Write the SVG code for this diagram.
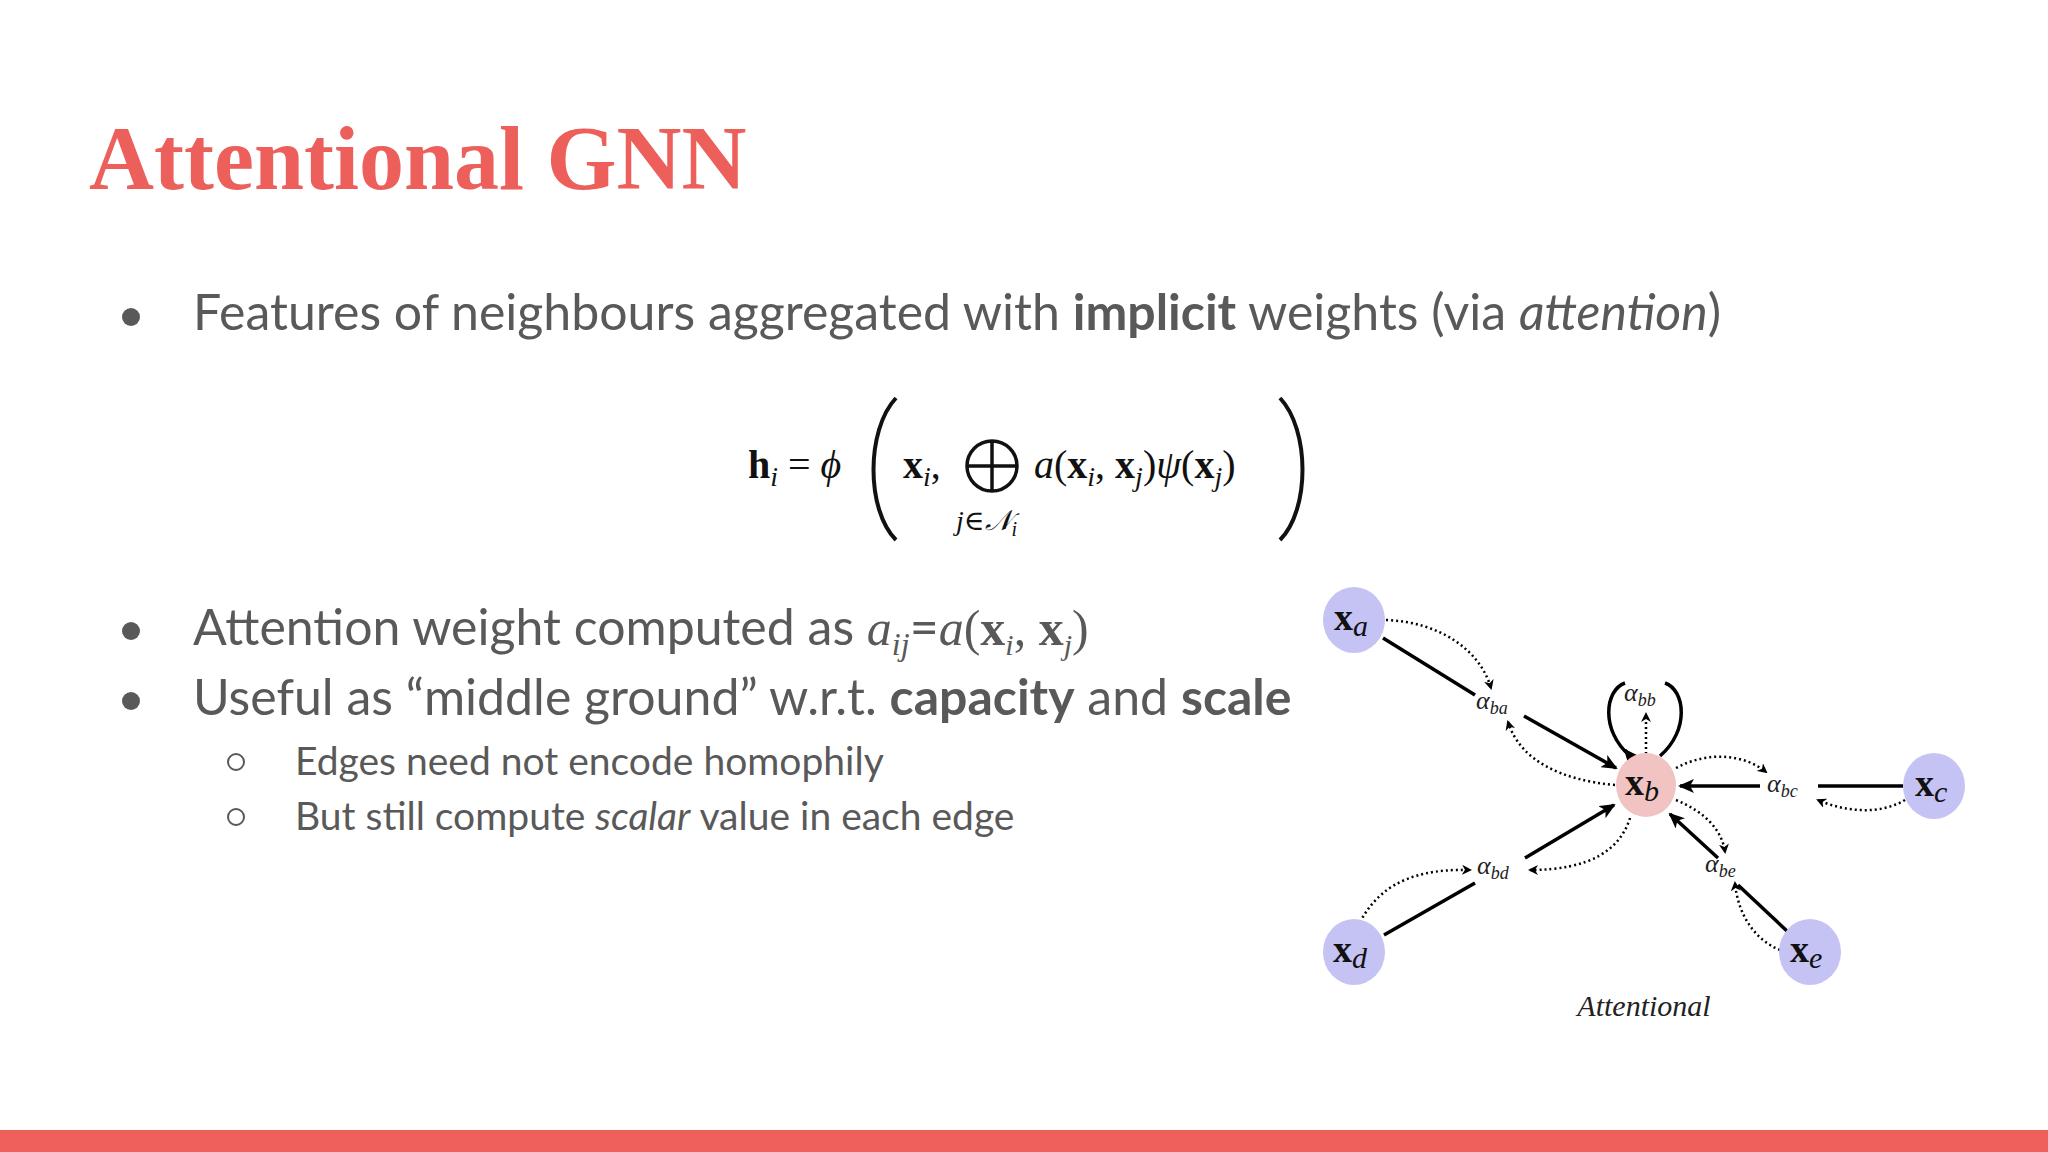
<svg xmlns="http://www.w3.org/2000/svg" width="2048" height="1152" viewBox="0 0 2048 1152">
<defs>
<style>
.b{font-family:Lato,"Open Sans",sans-serif;fill:#595959}
.m{font-family:"Liberation Serif","DejaVu Serif",serif;fill:#111}
.solid{stroke:#000;stroke-width:3.5;fill:none}
.dot{stroke:#000;stroke-width:2.5;fill:none;stroke-dasharray:2 3}
.node{fill:#c5c3f3}
.nl{font-family:"Liberation Serif",serif;font-size:38px;font-weight:bold;fill:#111}
.al{font-family:"Liberation Serif",serif;font-size:26px;font-style:italic;fill:#222}
</style>
<marker id="ah" markerWidth="10" markerHeight="10" refX="8" refY="5" orient="auto" markerUnits="userSpaceOnUse"><path d="M0,0 L10,5 L0,10 L3,5 z" fill="#000"/></marker>
<marker id="as" markerWidth="16" markerHeight="14" refX="14" refY="7" orient="auto" markerUnits="userSpaceOnUse"><path d="M0,0 L16,7 L0,14 L4,7 z" fill="#000"/></marker>
</defs>
<rect width="2048" height="1152" fill="#fff"/>
<text x="89" y="189" font-family="'Liberation Serif',serif" font-weight="bold" font-size="90" fill="#ec5f5b">Attentional GNN</text>
<g class="b" font-size="50">
<circle cx="131" cy="317" r="9" fill="#595959"/>
<text x="193" y="330">Features of neighbours aggregated with <tspan font-weight="bold">implicit</tspan> weights (via <tspan font-style="italic">attention</tspan>)</text>
<circle cx="131" cy="631" r="9" fill="#595959"/>
<text x="193" y="645">Attention weight computed as <tspan font-family="'Liberation Serif',serif" font-style="italic">a</tspan><tspan font-family="'Liberation Serif',serif" font-style="italic" font-size="32" dy="10">ij</tspan><tspan dy="-10">=</tspan><tspan font-family="'Liberation Serif',serif" font-style="italic">a</tspan><tspan font-family="'Liberation Serif',serif">(</tspan><tspan font-family="'Liberation Serif',serif" font-weight="bold">x</tspan><tspan font-family="'Liberation Serif',serif" font-style="italic" font-size="30" dy="10">i</tspan><tspan font-family="'Liberation Serif',serif" dy="-10">, </tspan><tspan font-family="'Liberation Serif',serif" font-weight="bold">x</tspan><tspan font-family="'Liberation Serif',serif" font-style="italic" font-size="30" dy="10">j</tspan><tspan font-family="'Liberation Serif',serif" dy="-10">)</tspan></text>
<circle cx="131" cy="701" r="9" fill="#595959"/>
<text x="193" y="715">Useful as “middle ground” w.r.t. <tspan font-weight="bold">capacity</tspan> and <tspan font-weight="bold">scale</tspan></text>
</g>
<g class="b" font-size="39">
<circle cx="236" cy="762" r="8" fill="none" stroke="#595959" stroke-width="2"/>
<text x="295" y="775">Edges need not encode homophily</text>
<circle cx="236" cy="817" r="8" fill="none" stroke="#595959" stroke-width="2"/>
<text x="295" y="830">But still compute <tspan font-style="italic">scalar</tspan> value in each edge</text>
</g>
<g id="formula">
<text class="m" x="748" y="478" font-size="40"><tspan font-weight="bold">h</tspan><tspan font-style="italic" font-size="28" dy="8">i</tspan><tspan dy="-8"> = </tspan><tspan font-style="italic">ϕ</tspan></text>
<path d="M896,398 C866,430 866,510 896,540" stroke="#111" stroke-width="4" fill="none"/>
<text class="m" x="903" y="478" font-size="40"><tspan font-weight="bold">x</tspan><tspan font-style="italic" font-size="28" dy="8">i</tspan><tspan dy="-8">,</tspan></text>
<circle cx="992" cy="466" r="25" stroke="#111" stroke-width="3.5" fill="none"/>
<path d="M967,466 H1017 M992,441 V491" stroke="#111" stroke-width="3.5"/>
<text class="m" x="956" y="530" font-size="28" font-style="italic">j∈𝒩<tspan font-size="20" dy="6">i</tspan></text>
<text class="m" x="1034" y="478" font-size="40"><tspan font-style="italic">a</tspan>(<tspan font-weight="bold">x</tspan><tspan font-style="italic" font-size="28" dy="8">i</tspan><tspan dy="-8">, </tspan><tspan font-weight="bold">x</tspan><tspan font-style="italic" font-size="28" dy="8">j</tspan><tspan dy="-8">)</tspan><tspan font-style="italic">ψ</tspan>(<tspan font-weight="bold">x</tspan><tspan font-style="italic" font-size="28" dy="8">j</tspan><tspan dy="-8">)</tspan></text>
<path d="M1280,398 C1310,430 1310,510 1280,540" stroke="#111" stroke-width="4" fill="none"/>
</g>
<g id="connectors">
<line class="solid" x1="1383" y1="638" x2="1475" y2="695"/>
<line class="solid" x1="1524" y1="716" x2="1616" y2="768" marker-end="url(#as)"/>
<line class="solid" x1="1903" y1="786" x2="1818" y2="786"/>
<line class="solid" x1="1760" y1="786" x2="1680" y2="786" marker-end="url(#as)"/>
<line class="solid" x1="1384" y1="935" x2="1475" y2="883"/>
<line class="solid" x1="1525" y1="858" x2="1614" y2="805" marker-end="url(#as)"/>
<line class="solid" x1="1787" y1="931" x2="1738" y2="885"/>
<line class="solid" x1="1718" y1="858" x2="1670" y2="814" marker-end="url(#as)"/>
<path class="solid" d="M1630,756 C1600,730 1605,690 1625,683"/>
<path class="solid" d="M1665,683 C1685,690 1690,730 1660,756"/>
<path class="solid" d="M1630,756 L1625,750" marker-end="url(#as)"/>
<path class="dot" d="M1386,620 C1440,622 1480,650 1491,688" marker-end="url(#ah)"/>
<path class="dot" d="M1615,785 C1560,780 1520,760 1508,722" marker-end="url(#ah)"/>
<path class="dot" d="M1646,754 V714" stroke-width="5" marker-end="url(#ah)"/>
<path class="dot" d="M1676,768 C1710,750 1745,755 1766,772" marker-end="url(#ah)"/>
<path class="dot" d="M1905,800 C1880,815 1845,812 1818,800" marker-end="url(#ah)"/>
<path class="dot" d="M1360,922 C1375,895 1400,868 1470,870" marker-end="url(#ah)"/>
<path class="dot" d="M1630,818 C1620,850 1590,870 1530,870" marker-end="url(#ah)"/>
<path class="dot" d="M1676,800 C1705,812 1722,830 1725,852" marker-end="url(#ah)"/>
<path class="dot" d="M1780,950 C1755,940 1738,915 1735,883" marker-end="url(#ah)"/>
</g>
<g id="node-a"><ellipse class="node" cx="1354" cy="620" rx="31" ry="33"/><text class="nl" x="1334" y="630">x<tspan font-weight="normal" font-style="italic" font-size="30" dy="6">a</tspan></text></g>
<g id="node-b"><ellipse cx="1646" cy="785" rx="30" ry="32" fill="#f2c3c3"/><text class="nl" x="1625" y="795">x<tspan font-weight="normal" font-style="italic" font-size="30" dy="6">b</tspan></text></g>
<g id="node-c"><ellipse class="node" cx="1934" cy="786" rx="31" ry="33"/><text class="nl" x="1915" y="796">x<tspan font-weight="normal" font-style="italic" font-size="30" dy="6">c</tspan></text></g>
<g id="node-d"><ellipse class="node" cx="1354" cy="952" rx="31" ry="33"/><text class="nl" x="1333" y="962">x<tspan font-weight="normal" font-style="italic" font-size="30" dy="6">d</tspan></text></g>
<g id="node-e"><ellipse class="node" cx="1810" cy="952" rx="31" ry="33"/><text class="nl" x="1790" y="962">x<tspan font-weight="normal" font-style="italic" font-size="30" dy="6">e</tspan></text></g>
<g id="labels">
<text class="al" x="1476" y="709">α<tspan font-size="18" dy="5">ba</tspan></text>
<text class="al" x="1624" y="701">α<tspan font-size="18" dy="5">bb</tspan></text>
<text class="al" x="1767" y="792">α<tspan font-size="18" dy="5">bc</tspan></text>
<text class="al" x="1477" y="874">α<tspan font-size="18" dy="5">bd</tspan></text>
<text class="al" x="1705" y="872">α<tspan font-size="18" dy="5">be</tspan></text>
<text x="1644" y="1016" text-anchor="middle" font-family="'Liberation Serif',serif" font-style="italic" font-size="30" fill="#222">Attentional</text>
</g>
<rect x="0" y="1130" width="2048" height="22" fill="#ef5f5b"/>
</svg>
